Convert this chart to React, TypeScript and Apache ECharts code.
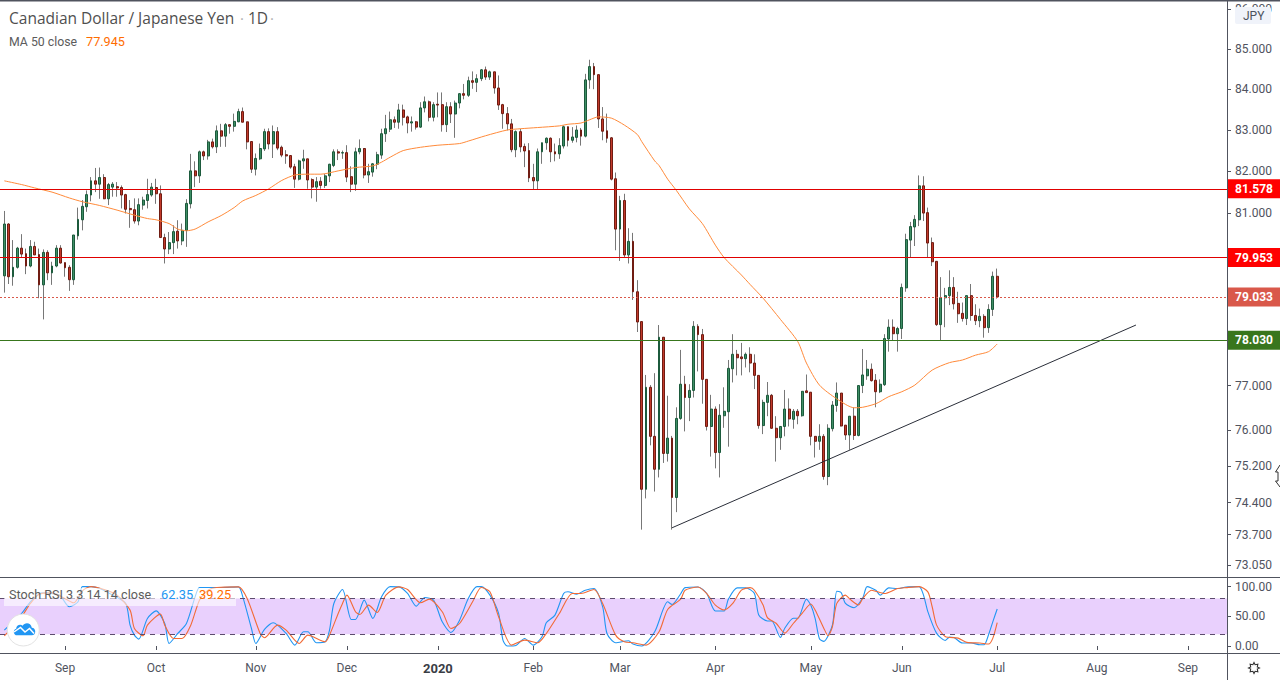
import React, { useEffect, useRef } from 'react';
import * as echarts from 'echarts';

const barCount = 284;
const monthLabels: Record<number, string> = {
  15: 'Sep', 36: 'Oct', 59: 'Nov', 80: 'Dec', 101: '2020', 123: 'Feb', 143: 'Mar',
  165: 'Apr', 187: 'May', 208: 'Jun', 230: 'Jul', 253: 'Aug', 274: 'Sep',
};
const priceTicks = [86, 85, 84, 83, 82, 81, 77, 76, 75.2, 74.4, 73.7, 73.05];
const stochTicks = [0, 50, 100];

const opens = [
  79.52, 80.74, 79.50, 79.72, 80.17, 80.04, 79.75, 80.21, 80.02, 79.31,
  80.07, 79.59, 79.75, 80.17, 79.83, 79.72, 79.43, 80.46, 80.84, 81.15,
  81.43, 81.77, 81.69, 81.85, 81.34, 81.62, 81.63, 81.61, 81.44, 81.11,
  81.08, 80.81, 81.19, 81.30, 81.43, 81.61, 81.46, 80.42, 80.15, 80.30,
  80.57, 80.34, 80.59, 81.22, 82.01, 81.89, 82.47, 82.37, 82.71, 82.59,
  82.98, 82.85, 83.13, 83.09, 83.20, 83.45, 83.20, 82.72, 82.05, 82.30,
  82.54, 82.96, 82.66, 82.96, 82.58, 82.40, 82.38, 82.11, 81.81, 82.25,
  82.30, 81.80, 81.62, 81.76, 81.66, 81.89, 82.14, 82.47, 82.44, 82.45,
  81.87, 81.69, 82.47, 82.55, 81.91, 81.98, 82.17, 82.39, 82.91, 83.02,
  83.25, 83.19, 83.49, 83.32, 83.17, 83.20, 83.07, 83.54, 83.69, 83.31,
  83.63, 83.62, 83.13, 83.57, 83.39, 83.66, 83.89, 83.85, 84.21, 84.17,
  84.26, 84.48, 84.30, 84.43, 84.03, 83.62, 83.40, 83.15, 82.52, 82.96,
  82.60, 82.50, 81.85, 81.77, 82.47, 82.69, 82.80, 82.47, 82.42, 82.61,
  83.08, 82.75, 82.82, 83.00, 82.85, 84.23, 84.56, 84.36, 83.27, 82.98,
  82.81, 81.82, 80.62, 81.30, 80.01, 80.33, 79.15, 78.46, 74.69, 76.96,
  75.86, 75.13, 78.10, 75.48, 75.82, 74.51, 76.26, 77.03, 76.73, 76.89,
  78.35, 78.16, 77.14, 76.08, 76.47, 75.50, 76.32, 76.41, 77.38, 77.71,
  77.65, 77.61, 77.71, 77.51, 77.23, 76.10, 76.62, 76.78, 76.04, 75.83,
  76.08, 76.47, 76.24, 76.42, 76.32, 76.88, 76.85, 75.86, 75.75, 75.86,
  74.97, 76.03, 76.55, 76.83, 76.11, 75.89, 76.31, 75.88, 77.00, 77.22,
  77.37, 77.12, 76.86, 77.02, 78.06, 78.33, 78.18, 78.30, 79.24, 80.36,
  80.67, 80.84, 81.65, 81.01, 80.30, 79.86, 78.39, 79.01, 79.06, 79.25,
  78.88, 78.65, 78.53, 79.06, 78.60, 78.48, 78.58, 78.32, 78.74, 79.51,
];
const closes = [
  80.74, 79.50, 79.72, 80.17, 80.03, 79.75, 80.21, 80.01, 79.31, 80.07,
  79.59, 79.75, 80.17, 79.82, 79.71, 79.43, 80.48, 80.85, 81.16, 81.44,
  81.77, 81.69, 81.85, 81.34, 81.68, 81.69, 81.60, 81.43, 81.09, 81.08,
  80.81, 81.20, 81.31, 81.44, 81.62, 81.46, 80.42, 80.15, 80.30, 80.56,
  80.34, 80.59, 81.23, 82.01, 81.89, 82.47, 82.37, 82.71, 82.59, 82.98,
  82.85, 83.13, 83.09, 83.21, 83.45, 83.19, 82.71, 82.05, 82.31, 82.55,
  82.96, 82.66, 82.96, 82.56, 82.39, 82.37, 82.10, 81.81, 82.25, 82.30,
  81.79, 81.62, 81.75, 81.66, 81.89, 82.17, 82.47, 82.44, 82.45, 81.86,
  81.69, 82.47, 82.55, 81.91, 81.99, 82.18, 82.40, 82.91, 83.03, 83.25,
  83.19, 83.49, 83.31, 83.17, 83.20, 83.07, 83.54, 83.69, 83.31, 83.62,
  83.61, 83.13, 83.57, 83.39, 83.66, 83.89, 83.85, 84.21, 84.17, 84.26,
  84.48, 84.30, 84.43, 84.03, 83.61, 83.40, 83.15, 82.52, 82.96, 82.59,
  82.49, 81.84, 81.77, 82.47, 82.69, 82.80, 82.47, 82.42, 82.62, 83.08,
  82.75, 82.83, 83.00, 82.85, 84.23, 84.56, 84.36, 83.27, 82.97, 82.80,
  81.81, 80.62, 81.30, 80.01, 80.33, 79.15, 78.45, 74.69, 76.96, 75.86,
  75.13, 78.10, 75.48, 75.82, 74.51, 76.26, 77.03, 76.73, 76.89, 78.35,
  78.16, 77.14, 76.08, 76.47, 75.50, 76.33, 76.42, 77.39, 77.71, 77.63,
  77.61, 77.71, 77.51, 77.23, 76.10, 76.62, 76.78, 76.04, 75.83, 76.08,
  76.47, 76.25, 76.42, 76.32, 76.87, 76.84, 75.86, 75.75, 75.86, 74.97,
  76.04, 76.56, 76.83, 76.09, 75.89, 76.31, 75.88, 77.00, 77.24, 77.37,
  77.11, 76.86, 77.03, 78.07, 78.33, 78.18, 78.30, 79.25, 80.37, 80.68,
  80.85, 81.65, 81.00, 80.29, 79.85, 78.39, 79.01, 79.06, 79.25, 78.87,
  78.64, 78.53, 79.06, 78.60, 78.48, 78.58, 78.32, 78.74, 79.51, 79.03,
];
const lows = [
  79.13, 79.33, 79.29, 79.69, 79.95, 79.56, 79.72, 80.01, 79.00, 78.51,
  79.42, 79.31, 79.72, 79.81, 79.50, 79.17, 79.31, 80.37, 80.59, 81.03,
  81.28, 81.50, 81.34, 81.33, 81.19, 81.39, 81.39, 81.11, 80.99, 80.65,
  80.75, 80.71, 81.08, 81.11, 81.39, 81.22, 80.42, 79.81, 80.03, 80.03,
  80.16, 80.24, 80.20, 81.11, 81.62, 81.72, 82.27, 82.28, 82.55, 82.44,
  82.59, 82.59, 82.91, 82.96, 83.19, 83.19, 82.53, 81.96, 81.90, 82.27,
  82.49, 82.53, 82.32, 82.51, 82.34, 82.18, 82.06, 81.60, 81.78, 82.06,
  81.58, 81.35, 81.27, 81.58, 81.60, 81.74, 82.10, 82.27, 82.30, 81.74,
  81.50, 81.53, 82.41, 81.83, 81.72, 81.87, 82.05, 82.30, 82.71, 82.95,
  83.05, 83.03, 83.11, 82.92, 82.96, 83.01, 83.05, 83.43, 83.21, 83.21,
  83.31, 82.96, 82.95, 83.17, 82.81, 83.53, 83.75, 83.81, 84.01, 83.93,
  84.20, 84.23, 84.23, 83.89, 83.49, 83.03, 82.99, 82.46, 82.34, 82.46,
  82.10, 81.74, 81.56, 81.56, 82.18, 82.52, 82.22, 82.24, 82.30, 82.55,
  82.60, 82.69, 82.70, 82.62, 82.82, 84.01, 84.00, 83.05, 82.75, 82.69,
  81.78, 80.12, 79.87, 79.95, 79.81, 78.96, 78.22, 73.81, 74.49, 75.66,
  74.64, 74.95, 75.27, 75.30, 73.81, 74.19, 76.23, 75.97, 76.20, 76.73,
  77.32, 76.59, 75.99, 75.41, 75.15, 74.95, 76.05, 75.63, 77.07, 77.23,
  77.23, 77.41, 77.30, 76.92, 76.03, 75.91, 76.31, 76.03, 75.30, 75.56,
  75.86, 76.08, 76.03, 76.13, 76.30, 76.84, 75.66, 75.39, 75.56, 74.90,
  74.78, 75.97, 76.41, 76.08, 75.78, 75.56, 75.78, 75.86, 76.83, 77.13,
  77.09, 76.51, 76.83, 76.99, 77.77, 78.03, 77.77, 78.06, 79.15, 79.95,
  80.22, 80.69, 80.81, 79.95, 79.75, 78.36, 78.03, 78.33, 78.84, 78.74,
  78.43, 78.46, 78.38, 78.48, 78.38, 78.33, 78.09, 78.20, 78.59, 78.99,
];
const highs = [
  81.05, 80.76, 80.36, 80.20, 80.50, 80.16, 80.36, 80.32, 80.16, 80.14,
  80.12, 79.85, 80.24, 80.24, 79.83, 79.77, 80.48, 81.13, 81.31, 81.54,
  81.86, 82.08, 82.09, 81.93, 81.72, 81.74, 81.74, 81.66, 81.46, 81.31,
  81.35, 81.35, 81.39, 81.82, 81.72, 81.82, 81.66, 80.51, 80.55, 80.71,
  80.83, 80.75, 81.33, 82.42, 82.24, 82.50, 82.50, 82.76, 82.79, 83.11,
  83.15, 83.17, 83.13, 83.40, 83.52, 83.55, 83.20, 82.72, 82.43, 82.67,
  83.03, 83.04, 83.11, 83.07, 82.62, 82.51, 82.38, 82.18, 82.28, 82.52,
  82.30, 81.83, 81.86, 81.86, 81.94, 82.18, 82.53, 82.53, 82.50, 82.63,
  82.12, 82.57, 82.77, 82.56, 82.18, 82.20, 82.47, 83.03, 83.37, 83.45,
  83.33, 83.64, 83.62, 83.35, 83.33, 83.22, 83.68, 83.82, 83.72, 83.68,
  83.92, 83.92, 83.68, 83.68, 83.72, 83.90, 84.13, 84.31, 84.44, 84.37,
  84.50, 84.56, 84.46, 84.43, 84.34, 83.64, 83.56, 83.27, 82.99, 83.03,
  82.67, 82.68, 82.18, 82.55, 82.69, 82.82, 82.82, 82.67, 82.80, 83.11,
  83.08, 83.07, 83.11, 83.05, 84.38, 84.73, 84.65, 84.36, 83.56, 83.40,
  82.83, 81.97, 81.41, 81.46, 80.64, 80.53, 79.42, 78.46, 77.24, 77.01,
  77.28, 78.38, 78.10, 76.77, 75.87, 76.51, 77.81, 77.22, 77.03, 78.47,
  78.40, 78.29, 77.14, 76.79, 76.53, 76.58, 76.96, 77.58, 78.17, 77.81,
  77.97, 77.75, 77.87, 77.71, 77.23, 76.68, 77.08, 76.81, 76.31, 76.08,
  76.90, 76.71, 76.47, 76.47, 76.87, 77.25, 76.85, 75.86, 76.13, 75.91,
  76.13, 76.65, 77.07, 76.83, 76.11, 76.31, 76.51, 77.00, 77.83, 77.58,
  77.50, 77.26, 77.14, 78.17, 78.51, 78.51, 78.34, 79.34, 80.51, 80.79,
  80.95, 81.90, 81.88, 81.13, 80.42, 79.86, 79.49, 79.24, 79.65, 79.49,
  79.15, 78.90, 79.06, 79.33, 78.86, 78.76, 78.63, 78.86, 79.62, 79.69,
];

// read every few bars: [bar, value]
const ma50: [number, number][] = [
  [1, 81.77], [5, 81.68], [8, 81.60], [12, 81.50], [16, 81.36], [19, 81.27], [23, 81.18], [27, 81.07],
  [31, 80.95], [34, 80.87], [36, 80.84], [39, 80.75], [41, 80.62], [43, 80.58], [45, 80.62], [48, 80.79],
  [51, 80.94], [54, 81.13], [56, 81.29], [59, 81.42], [62, 81.58], [65, 81.78], [68, 81.91], [71, 81.93],
  [74, 81.93], [78, 82.01], [82, 82.09], [86, 82.13], [88, 82.22], [90, 82.34], [93, 82.50], [97, 82.58],
  [101, 82.63], [106, 82.67], [108, 82.73], [112, 82.86], [117, 83.00], [120, 83.03], [124, 83.06],
  [129, 83.10], [131, 83.14], [134, 83.17], [136, 83.25], [138, 83.32], [141, 83.29], [144, 83.12],
  [147, 82.89], [148, 82.72], [151, 82.25], [152, 82.14], [154, 81.81], [156, 81.54], [159, 81.10],
  [162, 80.75], [165, 80.24], [167, 79.95], [171, 79.54], [173, 79.32], [176, 79.00], [180, 78.51],
  [184, 78.00], [186, 77.51], [189, 77.01], [193, 76.70], [197, 76.50], [198, 76.50], [202, 76.59],
  [205, 76.75], [208, 76.86], [211, 77.01], [215, 77.35], [219, 77.52], [222, 77.58], [225, 77.69],
  [228, 77.77], [230, 77.945],
];
const stochK: [number, number][] = [
  [1, 26.7], [3, 40.7], [5, 54.8], [7, 74.4], [9, 87.3], [10, 89.5], [13, 87.3], [14, 83.9], [16, 66], [18, 74.4],
  [19, 100], [21, 100], [23, 96.8], [26, 85.6], [29, 71.6], [30, 35.1], [31, 18.3], [32, 11.6], [34, 46.4], [36, 59.2],
  [38, 37.9], [39, 4.3], [41, 21.1], [43, 37.9], [45, 82.8], [46, 98.5], [48, 98.5], [51, 98.5], [55, 99.6], [56, 82.8],
  [58, 29.5], [59, 4.3], [61, 27.9], [63, 39.1], [66, 21.1], [68, 1.5], [70, 23.9], [71, 23.9], [73, 5.4], [75, 7.1],
  [76, 26.7], [77, 71.6], [79, 95], [81, 44.7], [82, 44.7], [84, 77.2], [86, 46.4], [88, 82.8], [90, 100], [92, 99.6],
  [94, 88.4], [96, 67.1], [98, 81.7], [100, 77.2], [102, 40.7], [104, 22.8], [106, 43.5], [108, 80], [110, 100], [111, 100],
  [113, 85.6], [115, 54.8], [116, 9.9], [117, 0], [119, 1], [121, 12.7], [123, 1.5], [125, 15.5], [126, 39.1], [128, 52],
  [130, 88.4], [131, 91.2], [133, 87.3], [135, 94], [137, 96.8], [139, 66], [140, 21.1], [142, 5.4], [145, 8.8], [146, 3.2],
  [148, 0], [151, 23.9], [154, 74.4], [155, 69.9], [157, 88], [158, 98.3], [161, 99.4], [163, 88.3], [165, 58.9], [167, 58.9],
  [168, 78.9], [170, 97.8], [172, 97.8], [174, 88.3], [175, 52.2], [177, 42.2], [178, 42.2], [180, 14.4], [181, 30], [183, 46.7],
  [184, 46.7], [186, 78.9], [187, 68.9], [188, 46.7], [189, 12.2], [190, 7.8], [192, 35.6], [193, 92.2], [194, 90], [195, 71.7],
  [197, 64.4], [199, 81.1], [200, 100], [202, 93.9], [203, 85.6], [205, 97.8], [207, 96.7], [209, 99.4], [212, 100], [213, 85.6],
  [214, 57.8], [216, 21.7], [218, 9.4], [219, 15], [220, 14.4], [222, 5], [224, 5], [226, 2.2], [227, 2.2], [228, 18.9],
  [229, 41.1], [230, 62.35],
];
const stochD: [number, number][] = [
  [1, 17.2], [3, 32.3], [5, 49.2], [7, 71.6], [9, 87.3], [12, 89.5], [14, 83.9], [17, 72.7], [19, 92.9], [21, 100],
  [24, 95.1], [27, 85.6], [30, 60.4], [31, 29.5], [33, 17.2], [34, 35.1], [37, 53.6], [38, 35.1], [40, 12.7], [42, 12.7],
  [44, 35.1], [46, 77.2], [48, 94], [50, 98.5], [55, 99.6], [57, 80], [60, 21.1], [61, 13.8], [64, 35.1], [66, 26.7],
  [69, 4.3], [71, 18.3], [75, 7.1], [76, 18.3], [78, 54.8], [79, 71.6], [80, 85.6], [82, 57.6], [83, 53.1], [85, 68.8],
  [87, 56.4], [89, 85.6], [92, 99.6], [94, 95.1], [97, 72.7], [99, 78.9], [102, 57.6], [104, 29.5], [106, 37.9], [109, 74.4],
  [111, 98.5], [113, 91.2], [115, 49.2], [118, 1.5], [121, 9.9], [124, 5.4], [126, 21.1], [129, 54.8], [132, 88.4], [134, 88.4],
  [137, 95.1], [139, 71.6], [142, 18.3], [144, 7.1], [146, 5.4], [149, 1.5], [152, 23.9], [154, 61.5], [157, 78.9], [158, 93.9],
  [161, 99.4], [163, 88.3], [165, 68.9], [167, 60.6], [169, 71.7], [171, 93.9], [173, 98.3], [174, 93.9], [176, 68.9], [177, 47.8],
  [179, 38.3], [181, 21.7], [183, 38.3], [185, 55], [187, 70.6], [188, 60.6], [190, 30], [191, 17.2], [192, 32.8], [193, 71.7],
  [195, 85.6], [196, 78.9], [198, 68.9], [199, 80], [201, 93.9], [204, 88.3], [207, 96.7], [209, 98.3], [212, 100], [214, 91.1],
  [215, 66.1], [216, 35.6], [218, 16.1], [221, 13.3], [223, 6.1], [226, 5], [228, 3.3], [229, 13.3], [230, 39.25],
];
const trendLine: [number, number][] = [[155, 73.85], [262, 78.38]];
const levels = [
  { value: 81.578, color: '#e00000', tag: '#ff0000', dash: 'solid' },
  { value: 79.953, color: '#e00000', tag: '#ff0000', dash: 'solid' },
  { value: 79.033, color: '#d9584a', tag: '#d9584a', dash: [2, 2] },
  { value: 78.03, color: '#38761d', tag: '#38761d', dash: 'solid' },
];

const FONT = 'Roboto, "Open Sans", sans-serif';
const TITLE_FONT = '"Open Sans", Roboto, sans-serif';
const AXIS = '#50535e';

echarts.graphic.registerShape('cloud', echarts.graphic.extendPath(
  'M5 14 C1 14 0 8 4 7 C4 3 9 2 11 4 C13 0 20 0 21 6 C26 6 26 14 21 14 Z', {},
));
echarts.graphic.registerShape('gearIcon', echarts.graphic.extendPath(
  'M5 0 L6 2 L8.5 1.5 L8 4 L10 5 L8 6 L8.5 8.5 L6 8 L5 10 L4 8 L1.5 8.5 L2 6 L0 5 L2 4 L1.5 1.5 L4 2 Z', {},
));

const App: React.FC = () => {
  const chartRef = useRef<HTMLDivElement>(null);

  useEffect(() => {
    if (!chartRef.current) return;
    const chart = echarts.init(chartRef.current, undefined, { renderer: 'svg' });

    const categories = Array.from({ length: barCount }, (_, i) => String(i));
    const hasLabel = (i: number) => monthLabels[i] !== undefined;
    const wickData = opens.map((o, i) => [i + 1, o, closes[i], lows[i], highs[i]]);
    const bodyData = opens.map((o, i) => [i + 1, o, closes[i], Math.min(o, closes[i]), Math.max(o, closes[i])]);

    const text = (x: number, y: number, t: string, fill: string, fontSize = 13, family = FONT) => ({
      type: 'text', x, y, z: 20,
      style: { text: t, fill, font: `${fontSize}px ${family}`, textVerticalAlign: 'middle' },
    });
    const rule = (x1: number, y1: number, x2: number, y2: number, lineWidth = 1) => ({
      type: 'line', z: 15, shape: { x1, y1, x2, y2 }, style: { stroke: AXIS, lineWidth },
    });

    const option = {
      animation: false,
      backgroundColor: '#ffffff',
      grid: [
        { left: -1.1, right: 53, top: 1, height: 576.5 },
        { left: -1.1, right: 53, top: 577.5, height: 76 },
      ],
      xAxis: [
        {
          type: 'category', gridIndex: 0, data: categories, boundaryGap: false,
          axisLine: { show: false }, axisTick: { show: false }, axisLabel: { show: false }, splitLine: { show: false },
        },
        {
          type: 'category', gridIndex: 1, data: categories, boundaryGap: false,
          axisLine: { show: false },
          axisTick: { show: true, interval: hasLabel, length: 4, lineStyle: { color: AXIS } },
          axisLabel: {
            show: true, interval: hasLabel, margin: 8, color: AXIS, fontFamily: FONT, fontSize: 12,
            formatter: (v: string) => (v === '101' ? '{y|2020}' : monthLabels[Number(v)] || ''),
            rich: { y: { fontFamily: FONT, fontSize: 13, fontWeight: 'bold', color: '#3a3d45' } },
          },
          splitLine: { show: false },
        },
      ],
      yAxis: [
        {
          type: 'log', gridIndex: 0, position: 'right', min: 72.78, max: 86.204,
          axisLine: { show: false },
          axisTick: { show: true, length: 4, customValues: priceTicks, lineStyle: { color: AXIS } },
          axisLabel: {
            show: true, customValues: priceTicks, margin: 8, color: AXIS, fontFamily: FONT, fontSize: 12,
            formatter: (v: number) => v.toFixed(3),
          },
          splitLine: { show: false },
        },
        {
          type: 'value', gridIndex: 1, position: 'right', min: -12.6, max: 115.3,
          axisLine: { show: false },
          axisTick: { show: true, length: 4, customValues: stochTicks, lineStyle: { color: AXIS } },
          axisLabel: {
            show: true, customValues: stochTicks, margin: 8, color: AXIS, fontFamily: FONT, fontSize: 12,
            formatter: (v: number) => v.toFixed(2),
          },
          splitLine: { show: false },
        },
      ],
      series: [
        {
          type: 'candlestick', name: 'wick', xAxisIndex: 0, yAxisIndex: 0, data: wickData, barWidth: 1,
          encode: { x: 0, y: [1, 2, 3, 4] },
          itemStyle: { color: '#777777', color0: '#777777', borderColor: '#777777', borderColor0: '#777777', borderWidth: 1 },
        },
        {
          type: 'candlestick', name: 'body', xAxisIndex: 0, yAxisIndex: 0, data: bodyData, barWidth: 2.4,
          encode: { x: 0, y: [1, 2, 3, 4] },
          itemStyle: { color: '#3f8f66', color0: '#c23a2b', borderColor: '#1c5a3c', borderColor0: '#701c12', borderWidth: 1 },
        },
        {
          type: 'line', name: 'MA 50', xAxisIndex: 0, yAxisIndex: 0, data: ma50, showSymbol: false, smooth: 0.25,
          lineStyle: { color: '#ff8a3a', width: 1 },
        },
        {
          type: 'line', name: 'trend', xAxisIndex: 0, yAxisIndex: 0, data: trendLine, showSymbol: false,
          lineStyle: { color: '#2a2e39', width: 1 },
        },
        {
          type: 'line', name: 'levels', xAxisIndex: 0, yAxisIndex: 0, data: [],
          markLine: {
            silent: true, symbol: 'none', animation: false,
            data: levels.map(l => ({
              yAxis: l.value,
              lineStyle: { color: l.color, width: 1, type: l.dash, opacity: 1 },
              label: {
                show: true, position: 'end', distance: 0, formatter: l.value.toFixed(3),
                backgroundColor: l.tag, color: '#ffffff', fontFamily: FONT, fontSize: 12, fontWeight: 'bold',
                padding: [4, 8, 3, 8],
              },
            })),
          },
        },
        {
          type: 'line', name: 'Stoch K', xAxisIndex: 1, yAxisIndex: 1, data: stochK, showSymbol: false, smooth: 0.25,
          lineStyle: { color: '#2196f3', width: 1.1 },
          markArea: {
            silent: true,
            itemStyle: { color: '#e9d0fd', opacity: 1 },
            data: [[{ yAxis: 20 }, { yAxis: 80 }]],
          },
          markLine: {
            silent: true, symbol: 'none', animation: false, label: { show: false },
            lineStyle: { color: '#5d4c6e', width: 1, type: [5, 5] },
            data: [{ yAxis: 20 }, { yAxis: 80 }],
          },
          z: 3,
        },
        {
          type: 'line', name: 'Stoch D', xAxisIndex: 1, yAxisIndex: 1, data: stochD, showSymbol: false, smooth: 0.25,
          lineStyle: { color: '#f26a36', width: 1.1 },
          z: 4,
        },
      ],
      graphic: [
        rule(0, 0.5, 1280, 0.5, 2),
        rule(0, 577.5, 1280, 577.5),
        rule(0, 653.5, 1280, 653.5),
        rule(1227.5, 0, 1227.5, 680),
        text(9, 18, 'Canadian Dollar / Japanese Yen', '#4f4f4f', 15.5, TITLE_FONT),
        text(240, 18, '·', '#b0b0b0', 15, TITLE_FONT),
        text(248, 18, '1D', '#4f4f4f', 15.5, TITLE_FONT),
        text(270, 18, '·', '#b0b0b0', 15, TITLE_FONT),
        text(9, 41.5, 'MA 50 close', '#5c5c5c', 12.3),
        text(86, 41.5, '77.945', '#ff6d00', 12.7),
        { type: 'rect', z: 18, shape: { x: 1235, y: 7, width: 36, height: 17, r: 2 }, style: { fill: '#f0f3fa' } },
        text(1243, 15.5, 'JPY', '#4c525e', 12),
        { type: 'rect', z: 12, shape: { x: 4, y: 588, width: 232, height: 18 }, style: { fill: 'rgba(255,255,255,0.6)' } },
        text(9, 594.5, 'Stoch RSI 3 3 14 14 close', '#5c5c5c', 12.6),
        text(161, 594.5, '62.35', '#2196f3', 12.8),
        text(199, 594.5, '39.25', '#ff6d00', 12.8),
        { type: 'circle', z: 16, shape: { cx: 23.3, cy: 630, r: 16 }, style: { fill: '#ffffff', stroke: '#e3e3e3', lineWidth: 1 } },
        { type: 'cloud', z: 17, x: 12.5, y: 622, scaleX: 0.92, scaleY: 0.95, style: { fill: '#2196f3' } },
        {
          type: 'polyline', z: 18,
          shape: { points: [[14, 632], [20.5, 627.5], [25, 632], [29.5, 628.5], [34, 633.5]] },
          style: { stroke: '#ffffff', lineWidth: 1.5, fill: 'none' },
        },
        { type: 'gearIcon', z: 17, x: 1248.5, y: 662.5, scaleX: 1.1, scaleY: 1.1, style: { fill: 'none', stroke: '#333333', lineWidth: 1 } },
        {
          type: 'polyline', z: 18,
          shape: { points: [[1280, 465], [1275.5, 472], [1278, 472], [1278, 481], [1275.5, 481], [1280, 487]] },
          style: { stroke: '#333333', lineWidth: 1, fill: '#ffffff' },
        },
      ],
    };

    chart.setOption(option as any);

    return () => {
      chart.dispose();
    };
  }, []);

  return <div ref={chartRef} style={{ position: 'fixed', left: 0, top: 0, width: 1280, height: 680 }} />;
};

export default App;
